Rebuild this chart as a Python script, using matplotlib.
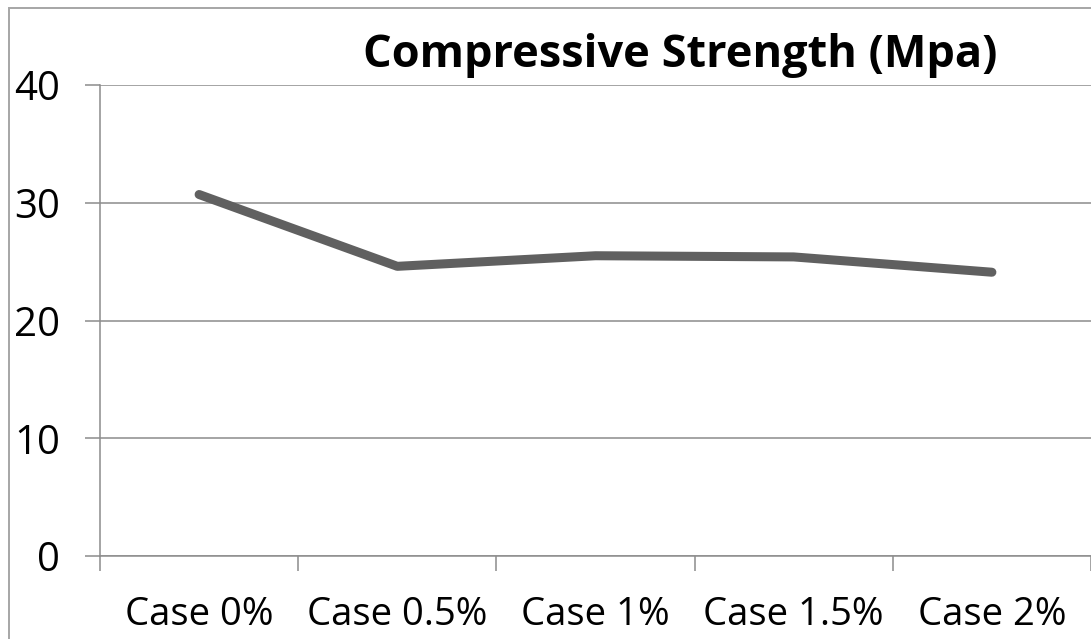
import matplotlib
matplotlib.use("Agg")
import matplotlib.pyplot as plt
from matplotlib.patches import Rectangle

categories = ["Case 0%", "Case 0.5%", "Case 1%", "Case 1.5%", "Case 2%"]
strength = [30.7, 24.6, 25.5, 25.4, 24.1]
y_ticks = [0, 10, 20, 30, 40]
title = "Compressive Strength (Mpa)"

plt.rcParams["font.family"] = ["Open Sans", "DejaVu Sans"]

W, H = 1091, 639
fig = plt.figure(figsize=(W / 100, H / 100), dpi=100)
fig.patch.set_facecolor("white")

# outer chart frame (runs off the right and bottom edges)
fig.add_artist(Rectangle((8.5 / W, -0.1), 1.2, (H - 7.5) / H + 0.1,
                         transform=fig.transFigure, fill=False,
                         edgecolor="#a6a6a6", linewidth=1.4, clip_on=False))

ax = fig.add_axes([100 / W, (H - 556) / H, (W - 100) / W, (556 - 85) / H])
x = list(range(len(categories)))
ax.plot(x, strength, color="#606060", linewidth=6.5,
        solid_capstyle="round", solid_joinstyle="round", zorder=3)

ax.set_xlim(-0.5, len(categories) - 0.5)
ax.set_ylim(0, 40)
ax.set_yticks(y_ticks)
ax.set_yticklabels([str(v) for v in y_ticks])
ax.yaxis.grid(True, color="#8c8c8c", linewidth=1.1)
ax.set_axisbelow(True)

ax.set_xticks(x)
ax.set_xticklabels(categories)
ax.set_xticks([i - 0.5 for i in range(len(categories) + 1)], minor=True)
ax.tick_params(axis="x", which="major", length=0, pad=29, labelsize=27.5)
ax.tick_params(axis="x", which="minor", length=11, width=1.1,
               color="#8c8c8c", direction="out")
ax.tick_params(axis="y", length=11, width=1.1, color="#8c8c8c",
               pad=18, labelsize=29)

for side in ("top", "right"):
    ax.spines[side].set_visible(False)
for side in ("left", "bottom"):
    ax.spines[side].set_color("#8c8c8c")
    ax.spines[side].set_linewidth(1.1)

fig.text(680 / W, 1 - 55 / H, title, ha="center", va="center",
         fontsize=32.5, fontweight="bold")

fig.savefig("out.png", dpi=100)
